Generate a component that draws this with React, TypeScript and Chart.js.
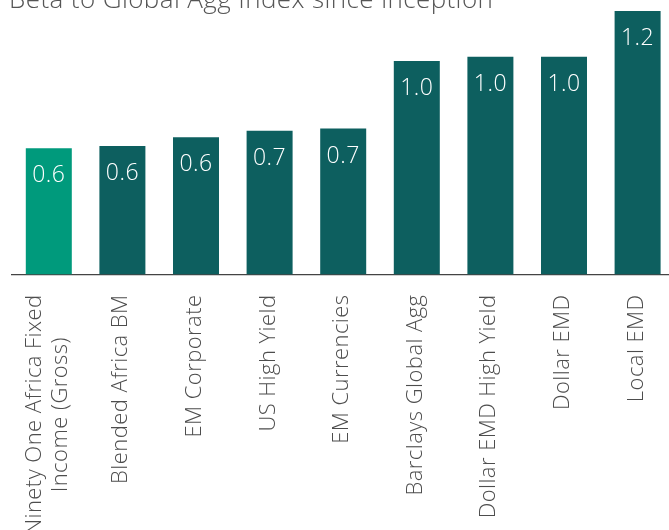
import React, { useEffect, useRef } from "react";
import { Chart, registerables } from "chart.js";

Chart.register(...registerables);

const TITLE = "Beta to Global Agg Index since inception";
const categories: (string | string[])[] = [
  ["Ninety One Africa Fixed", "Income (Gross)"],
  "Blended Africa BM",
  "EM Corporate",
  "US High Yield",
  "EM Currencies",
  "Barclays Global Agg",
  "Dollar EMD High Yield",
  "Dollar EMD",
  "Local EMD",
];
const betaValues = [0.58, 0.59, 0.63, 0.66, 0.67, 0.98, 1.0, 1.0, 1.21];
const barColors = [
  "#009a7c",
  "#0d5f5f",
  "#0d5f5f",
  "#0d5f5f",
  "#0d5f5f",
  "#0d5f5f",
  "#0d5f5f",
  "#0d5f5f",
  "#0d5f5f",
];

const FONT = "'Open Sans', Roboto, sans-serif";
const CANVAS_W = 700;
const CANVAS_H = 620;
const AXIS_Y = 274.5;
const TICK_FONT_SIZE = 22;
const TICK_LINE_GAP = 25.5;
const TICK_PAD = 20;

const valueLabels = {
  id: "valueLabels",
  afterDatasetsDraw(chart: any) {
    const ctx = chart.ctx;
    const meta = chart.getDatasetMeta(0);
    ctx.save();
    ctx.fillStyle = "#ffffff";
    ctx.font = `300 23px ${FONT}`;
    (ctx as any).letterSpacing = "0.5px";
    ctx.textAlign = "center";
    ctx.textBaseline = "alphabetic";
    meta.data.forEach((bar: any, i: number) => {
      const v = chart.data.datasets[0].data[i] as number;
      ctx.fillText(v.toFixed(1), bar.x, bar.y + 34);
    });
    ctx.restore();
  },
};

const rotatedTicks = {
  id: "rotatedTicks",
  afterDraw(chart: any) {
    const ctx = chart.ctx;
    const xs = chart.scales.x;
    const yEnd = chart.chartArea.bottom + TICK_PAD;
    ctx.save();
    ctx.fillStyle = "#4d4d4d";
    ctx.font = `300 ${TICK_FONT_SIZE}px ${FONT}`;
    (ctx as any).letterSpacing = "0.45px";
    ctx.textAlign = "right";
    ctx.textBaseline = "alphabetic";
    (chart.data.labels as (string | string[])[]).forEach((lab, i) => {
      const lines = Array.isArray(lab) ? lab : [lab];
      const cx = xs.getPixelForTick(i);
      const w0 = ctx.measureText(lines[0]).width;
      lines.forEach((line, k) => {
        const bx = cx + 5 + (k - (lines.length - 1) / 2) * TICK_LINE_GAP;
        const off = k === 0 ? 0 : (w0 - ctx.measureText(line).width) / 2;
        ctx.save();
        ctx.translate(bx, yEnd);
        ctx.rotate(-Math.PI / 2);
        ctx.fillText(line, -off, 0);
        ctx.restore();
      });
    });
    ctx.restore();
  },
};

const titlePlugin = {
  id: "topTitle",
  afterDraw(chart: any) {
    const ctx = chart.ctx;
    ctx.save();
    ctx.fillStyle = "#555555";
    ctx.font = `300 26px ${FONT}`;
    (ctx as any).letterSpacing = "0.4px";
    ctx.textAlign = "left";
    ctx.textBaseline = "alphabetic";
    ctx.fillText(TITLE, 9, 8);
    ctx.restore();
  },
};

export default function App() {
  const ref = useRef<HTMLCanvasElement>(null);
  useEffect(() => {
    if (!ref.current) return;
    const chart = new Chart(ref.current, {
      type: "bar",
      data: {
        labels: categories,
        datasets: [
          {
            data: betaValues,
            backgroundColor: barColors,
            borderWidth: 0,
            barPercentage: 0.625,
            categoryPercentage: 1,
          },
        ],
      },
      options: {
        animation: false,
        responsive: true,
        maintainAspectRatio: false,
        layout: { padding: { left: 12, right: 25.6, top: 0, bottom: 0 } },
        plugins: {
          legend: { display: false },
          tooltip: { enabled: false },
          title: { display: false },
        },
        scales: {
          x: {
            offset: true,
            grid: { display: false, drawTicks: false },
            border: { display: true, color: "#444444", width: 1.2 },
            ticks: { display: false },
            afterFit: (scale: any) => {
              scale.height = CANVAS_H - AXIS_Y;
            },
          },
          y: {
            display: false,
            min: 0,
            max: 1.26,
          },
        },
      },
      plugins: [valueLabels, rotatedTicks, titlePlugin],
    });
    return () => chart.destroy();
  }, []);

  return (
    <div
      style={{
        position: "fixed",
        top: 0,
        left: 0,
        width: 669,
        height: 530,
        overflow: "hidden",
        background: "#ffffff",
      }}
    >
      <div style={{ position: "relative", width: CANVAS_W, height: CANVAS_H }}>
        <canvas ref={ref} />
      </div>
    </div>
  );
}
